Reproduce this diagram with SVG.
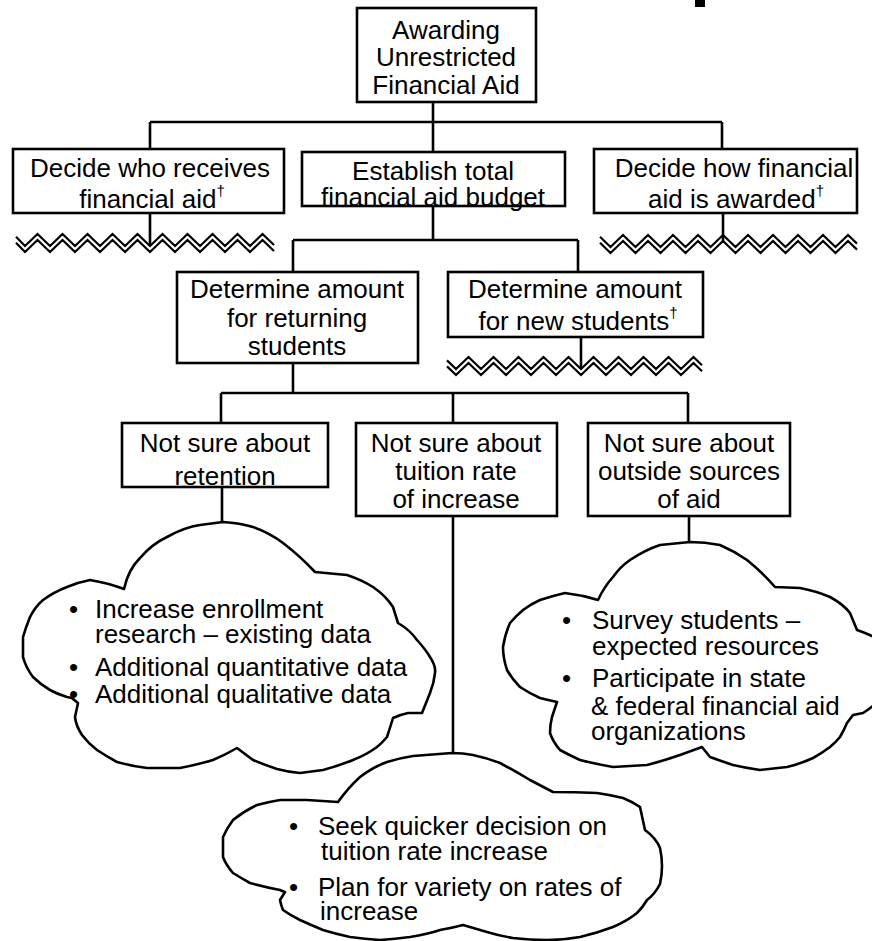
<svg xmlns="http://www.w3.org/2000/svg" width="872" height="941" viewBox="0 0 872 941">
  <style>
    .box { fill: #fff; stroke: #000; stroke-width: 2.6; }
    .lbl { font-family: "Liberation Sans", Arial, sans-serif; font-size: 26px; fill: #000; text-anchor: middle; }
    .txt { font-family: "Liberation Sans", Arial, sans-serif; font-size: 26px; fill: #000; }
    .sup { font-size: 15px; }
    .wire { fill: none; stroke: #000; stroke-width: 2.6; }
    .zig { fill: none; stroke: #000; stroke-width: 2.2; stroke-linejoin: miter; }
    .cloud { fill: #fff; stroke: #000; stroke-width: 2.6; stroke-linejoin: round; }
  </style>
  <defs>
    <!-- wavy "to be continued" marks under branches -->
    <polyline id="zigL" class="zig" points="16,236.8 25,246 37.5,234 50,246 62.5,234 75,246 87.5,234 100,246 112.5,234 125,246 137.5,234 150,246 162.5,234 175,246 187.5,234 200,246 212.5,234 225,246 237.5,234 250,246 262.5,234 274,245"/>
    <polyline id="zigR" class="zig" points="600,236.8 610.5,247 623,235 635.5,247 648,235 660.5,247 673,235 685.5,247 698,235 710.5,247 723,235 735.5,247 748,235 760.5,247 773,235 785.5,247 798,235 810.5,247 823,235 835.5,247 848,235 857,243.6"/>
    <polyline id="zigM" class="zig" points="447,360.4 456,369 468.5,357 481,369 493.5,357 506,369 518.5,357 531,369 543.5,357 556,369 568.5,357 581,369 593.5,357 606,369 618.5,357 631,369 643.5,357 656,369 668.5,357 681,369 693.5,357 702,365.2"/>
  </defs>

  <rect x="695" y="0" width="10" height="7" fill="#000"/>

  <g id="connectors">
    <path class="wire" d="M433,102 V152 M150,122 H722 M150,122 V149 M722,122 V149"/>
    <path class="wire" d="M150,213 V245 M723,213 V241"/>
    <path class="wire" d="M433,206 V240 M293,240 H578 M293,240 V272 M578,240 V272"/>
    <path class="wire" d="M581,337 V367"/>
    <path class="wire" d="M293,363 V393 M221,393 H688 M221,393 V423 M453,393 V423 M688,393 V423"/>
    <path class="wire" d="M222,487 V522 M453,516 V754 M689,516 V543"/>
    <use href="#zigL"/><use href="#zigL" transform="translate(0,6)"/>
    <use href="#zigR"/><use href="#zigR" transform="translate(0,6)"/>
    <use href="#zigM"/><use href="#zigM" transform="translate(0,6)"/>
  </g>

  <g id="root">
    <rect class="box" x="357" y="8" width="179" height="94"/>
    <text class="lbl" x="446" y="39">Awarding</text>
    <text class="lbl" x="446" y="66">Unrestricted</text>
    <text class="lbl" x="446" y="94">Financial Aid</text>
  </g>

  <g id="who-receives">
    <rect class="box" x="13" y="149" width="271" height="64"/>
    <text class="lbl" x="150" y="177">Decide who receives</text>
    <text class="lbl" x="152" y="208">financial aid<tspan class="sup" dy="-12">†</tspan></text>
  </g>

  <g id="total-budget">
    <rect class="box" x="302" y="152" width="263" height="54"/>
    <text class="lbl" x="433" y="180">Establish total</text>
    <text class="lbl" x="433" y="206">financial aid budget</text>
  </g>

  <g id="how-awarded">
    <rect class="box" x="594" y="149" width="263" height="64"/>
    <text class="lbl" x="734" y="177">Decide how financial</text>
    <text class="lbl" x="736" y="208">aid is awarded<tspan class="sup" dy="-12">†</tspan></text>
  </g>

  <g id="returning">
    <rect class="box" x="177" y="272" width="241" height="91"/>
    <text class="lbl" x="297" y="298">Determine amount</text>
    <text class="lbl" x="297" y="327">for returning</text>
    <text class="lbl" x="297" y="355">students</text>
  </g>

  <g id="new-students">
    <rect class="box" x="448" y="272" width="255" height="65"/>
    <text class="lbl" x="575" y="298">Determine amount</text>
    <text class="lbl" x="578" y="330">for new students<tspan class="sup" dy="-12">†</tspan></text>
  </g>

  <g id="retention">
    <rect class="box" x="122" y="423" width="206" height="64"/>
    <text class="lbl" x="225" y="452">Not sure about</text>
    <text class="lbl" x="225" y="485">retention</text>
  </g>

  <g id="tuition">
    <rect class="box" x="356" y="423" width="201" height="93"/>
    <text class="lbl" x="456" y="452">Not sure about</text>
    <text class="lbl" x="456" y="480">tuition rate</text>
    <text class="lbl" x="456" y="508">of increase</text>
  </g>

  <g id="outside">
    <rect class="box" x="588" y="423" width="202" height="93"/>
    <text class="lbl" x="689" y="452">Not sure about</text>
    <text class="lbl" x="689" y="480">outside sources</text>
    <text class="lbl" x="689" y="508">of aid</text>
  </g>

  <g id="cloud-retention">
    <path class="cloud" d="M124,589 Q128,570 140,558 Q152,544 167,537 Q185,527 200,525 L223,522 Q240,523 253,527 Q270,533 283,543 Q300,556 315,572 L347,575 Q362,580 373,587 Q386,596 393,607 L398,623 Q410,630 417,640 Q426,650 430,657 Q436,666 435,673 Q434,683 430,693 Q426,703 422,713 L408,713 Q399,715 393,718 Q390,728 387,737 Q382,743 377,747 Q366,755 353,760 Q338,766 323,770 L300,773 Q288,772 277,769 Q265,765 253,760 L237,748 Q225,755 213,760 Q196,765 180,768 L147,768 Q131,766 117,762 Q106,756 97,750 Q88,743 82,735 Q76,726 75,717 L78,703 Q74,700 72,698 L67,697 Q57,694 50,690 Q40,684 33,677 Q26,668 23,657 L23,637 Q26,627 30,617 Q35,607 43,600 Q54,592 67,587 Q79,582 90,580 Q108,583 124,589 Z"/>
    <text class="txt" x="69" y="618">•</text>
    <text class="txt" x="95" y="618">Increase enrollment</text>
    <text class="txt" x="95" y="643">research – existing data</text>
    <text class="txt" x="69" y="676">•</text>
    <text class="txt" x="95" y="676">Additional quantitative data</text>
    <text class="txt" x="69" y="703">•</text>
    <text class="txt" x="95" y="703">Additional qualitative data</text>
  </g>

  <g id="cloud-outside">
    <path class="cloud" d="M598,600 Q604,587 613,577 Q620,567 630,560 Q645,550 660,545 L690,542 Q705,542 720,545 Q734,551 747,560 Q762,572 775,587 L800,588 Q816,591 830,597 Q843,604 850,613 L857,630 Q866,633 874,637 L874,705 Q868,710 863,713 L853,715 Q850,719 847,723 Q844,730 840,737 Q836,742 830,747 Q822,753 813,758 Q800,764 787,767 L760,770 Q746,768 733,765 Q721,761 710,757 L702,747 Q691,751 680,755 Q663,761 647,765 L613,767 Q596,764 580,760 Q569,755 560,750 Q553,742 550,733 Q550,725 552,717 L557,702 Q548,700 540,698 Q529,693 520,687 Q512,679 507,670 Q503,658 503,647 Q505,634 510,623 Q516,616 523,610 Q531,604 540,600 Q552,596 565,593 Q582,595 598,600 Z"/>
    <text class="txt" x="562" y="629">•</text>
    <text class="txt" x="592" y="629">Survey students –</text>
    <text class="txt" x="592" y="655">expected resources</text>
    <text class="txt" x="562" y="687">•</text>
    <text class="txt" x="592" y="687">Participate in state</text>
    <text class="txt" x="591" y="715">&amp; federal financial aid</text>
    <text class="txt" x="591" y="740">organizations</text>
  </g>

  <g id="cloud-tuition">
    <path class="cloud" d="M338,802 Q348,788 360,777 Q373,767 387,762 Q400,758 413,756 L452,753 Q463,753 473,755 Q487,758 500,763 Q515,771 530,780 L553,792 Q575,792 597,793 Q611,795 623,798 Q633,802 640,807 L645,830 Q656,838 660,848 Q664,866 660,884 Q655,894 647,900 Q643,907 637,913 Q627,921 613,927 Q597,933 580,937 Q563,940 547,940 Q530,940 513,938 Q500,936 487,932 L463,925 Q452,928 440,930 Q428,934 410,937 Q395,939 380,940 Q365,939 350,937 Q336,934 323,930 Q311,925 300,920 Q290,915 283,910 Q281,905 280,900 L285,892 Q282,891 280,890 Q265,887 250,883 Q241,878 233,873 Q226,865 223,857 L223,837 Q227,828 233,820 Q244,811 257,805 Q268,802 280,800 L307,800 Q322,801 338,802 Z"/>
    <text class="txt" x="289" y="835">•</text>
    <text class="txt" x="318" y="835">Seek quicker decision on</text>
    <text class="txt" x="321" y="860">tuition rate increase</text>
    <text class="txt" x="289" y="896">•</text>
    <text class="txt" x="318" y="896">Plan for variety on rates of</text>
    <text class="txt" x="320" y="920">increase</text>
  </g>
</svg>
